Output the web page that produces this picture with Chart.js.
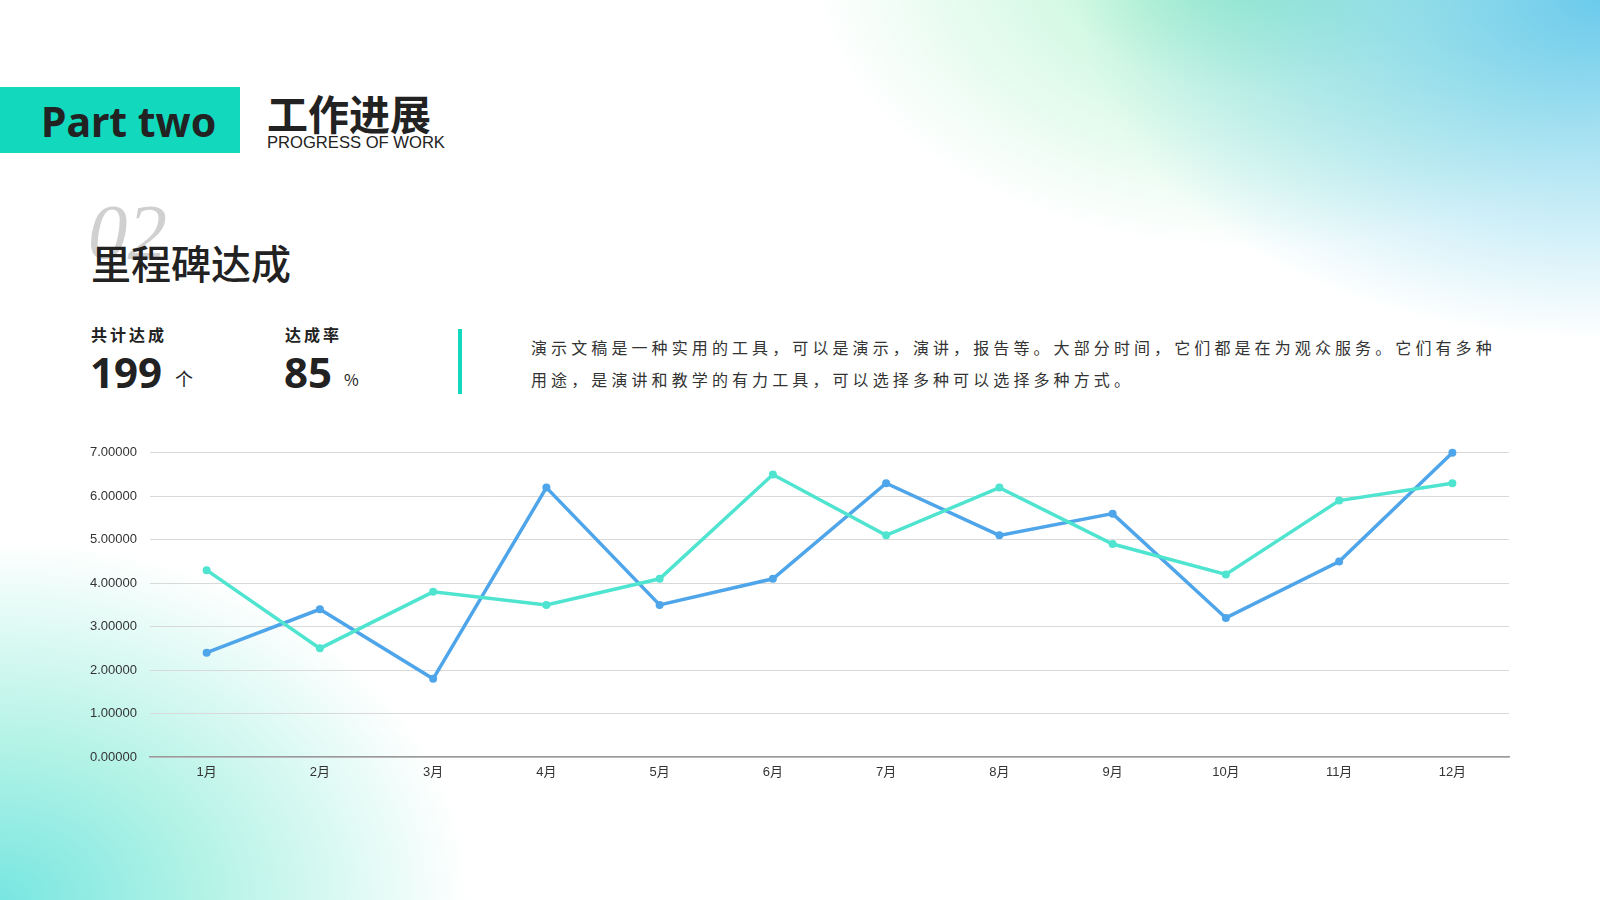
<!DOCTYPE html>
<html lang="zh">
<head>
<meta charset="UTF-8">
<title>工作进展</title>
<script src="https://cdn.jsdelivr.net/npm/chart.js@4.4.0/dist/chart.umd.min.js"></script>
<style>
  html, body { margin: 0; padding: 0; }
  body {
    width: 1600px; height: 900px; position: relative; overflow: hidden;
    font-family: "Noto Sans CJK SC", "Noto Sans", sans-serif; color: #222;
    background:
      radial-gradient(ellipse 520px 340px at 1600px 0px, rgba(100,200,235,0.95) 0%, rgba(120,210,235,0.6) 45%, rgba(255,255,255,0) 100%),
      radial-gradient(ellipse 440px 290px at 1250px -40px, rgba(140,235,185,0.95) 0%, rgba(185,245,210,0.6) 45%, rgba(255,255,255,0) 100%),
      radial-gradient(ellipse 470px 360px at 0px 900px, rgba(120,230,225,1) 0%, rgba(150,238,220,0.7) 45%, rgba(255,255,255,0) 100%),
      #ffffff;
  }
  .abs { position: absolute; line-height: 1; white-space: nowrap; }
  .tag { left: 0; top: 87px; width: 240px; height: 66px; background: #12d9be; }
  .tag span { position: absolute; left: 41px; top: 14px; font-family: "Noto Sans", sans-serif; font-weight: 700; font-size: 41px; line-height: 1; color: #222; }
  .title { left: 267px; top: 92px; font-size: 41px; font-weight: 700; }
  .sub { left: 267px; top: 135px; font-family: "Liberation Sans", Arial, sans-serif; font-size: 16.6px; color: #222; }
  .num { left: 88px; top: 192px; font-family: "Liberation Serif", serif; font-style: italic; font-size: 79px; color: #d0d0d0; }
  .head { left: 91px; top: 242px; font-size: 40px; font-weight: 500; }
  .lbl { font-size: 16px; font-weight: 700; letter-spacing: 3px; top: 326px; }
  .big { font-family: "Noto Sans", sans-serif; font-weight: 700; font-size: 42px; top: 351px; }
  .unit { font-size: 18px; top: 369px; }
  .bar { left: 458px; top: 329px; width: 4px; height: 65px; background: #12d9be; }
  .para { left: 531px; top: 331px; width: 975px; white-space: normal; font-size: 16px; letter-spacing: 4.1px; line-height: 32px; color: #333; }
  #wrap { position: absolute; left: 80px; top: 432px; width: 1433px; height: 355px; }
</style>
</head>
<body>
<div class="abs tag"><span>Part two</span></div>
<div class="abs title">工作进展</div>
<div class="abs sub">PROGRESS OF WORK</div>
<div class="abs num">02</div>
<div class="abs head">里程碑达成</div>
<div class="abs lbl" style="left:91px">共计达成</div>
<div class="abs big" style="left:90px">199</div>
<div class="abs unit" style="left:175px">个</div>
<div class="abs lbl" style="left:285px">达成率</div>
<div class="abs big" style="left:284px">85</div>
<div class="abs unit" style="left:344px;font-size:16px;top:371px">%</div>
<div class="abs bar"></div>
<div class="abs para">演示文稿是一种实用的工具，可以是演示，演讲，报告等。大部分时间，它们都是在为观众服务。它们有多种用途，是演讲和教学的有力工具，可以选择多种可以选择多种方式。</div>
<div id="wrap"><canvas id="chart"></canvas></div>
<script>
  const months = ["1月", "2月", "3月", "4月", "5月", "6月", "7月", "8月", "9月", "10月", "11月", "12月"];
  const seriesBlue = [2.4, 3.4, 1.8, 6.2, 3.5, 4.1, 6.3, 5.1, 5.6, 3.2, 4.5, 7.0];
  const seriesTeal = [4.3, 2.5, 3.8, 3.5, 4.1, 6.5, 5.1, 6.2, 4.9, 4.2, 5.9, 6.3];
  const yTicks = [0, 1, 2, 3, 4, 5, 6, 7];

  const blue = "#4ea5e9";
  const teal = "#4fe4cf";

  function line(data, color) {
    return {
      data: data,
      borderColor: color,
      backgroundColor: color,
      borderWidth: 3.5,
      pointRadius: 4,
      pointBorderWidth: 0,
      pointBackgroundColor: color,
      tension: 0,
      fill: false,
      clip: false
    };
  }

  new Chart(document.getElementById("chart"), {
    type: "line",
    data: {
      labels: months,
      datasets: [line(seriesTeal, teal), line(seriesBlue, blue)]
    },
    options: {
      responsive: true,
      maintainAspectRatio: false,
      animation: false,
      layout: { padding: { top: 6, right: 0, left: 0, bottom: 0 } },
      plugins: { legend: { display: false }, tooltip: { enabled: false } },
      scales: {
        x: {
          offset: true,
          grid: { display: false },
          border: { display: true, color: "#9a9a9a", width: 1.5 },
          ticks: { color: "#333", padding: 0, maxRotation: 0,
                   font: { family: "'Liberation Sans', 'Noto Sans CJK SC', sans-serif", size: 13 } },
          afterFit: function (s) { s.height = 30; }
        },
        y: {
          min: yTicks[0],
          max: yTicks[yTicks.length - 1],
          afterBuildTicks: function (s) { s.ticks = yTicks.map(v => ({ value: v })); },
          grid: { color: "#d9d9d9", lineWidth: 1, drawTicks: false },
          border: { display: false },
          ticks: { color: "#333", padding: 13,
                   font: { family: "'Liberation Sans', sans-serif", size: 13 },
                   callback: v => Number(v).toFixed(5) },
          afterFit: function (s) { s.width = 70; }
        }
      }
    }
  });
</script>
</body>
</html>
